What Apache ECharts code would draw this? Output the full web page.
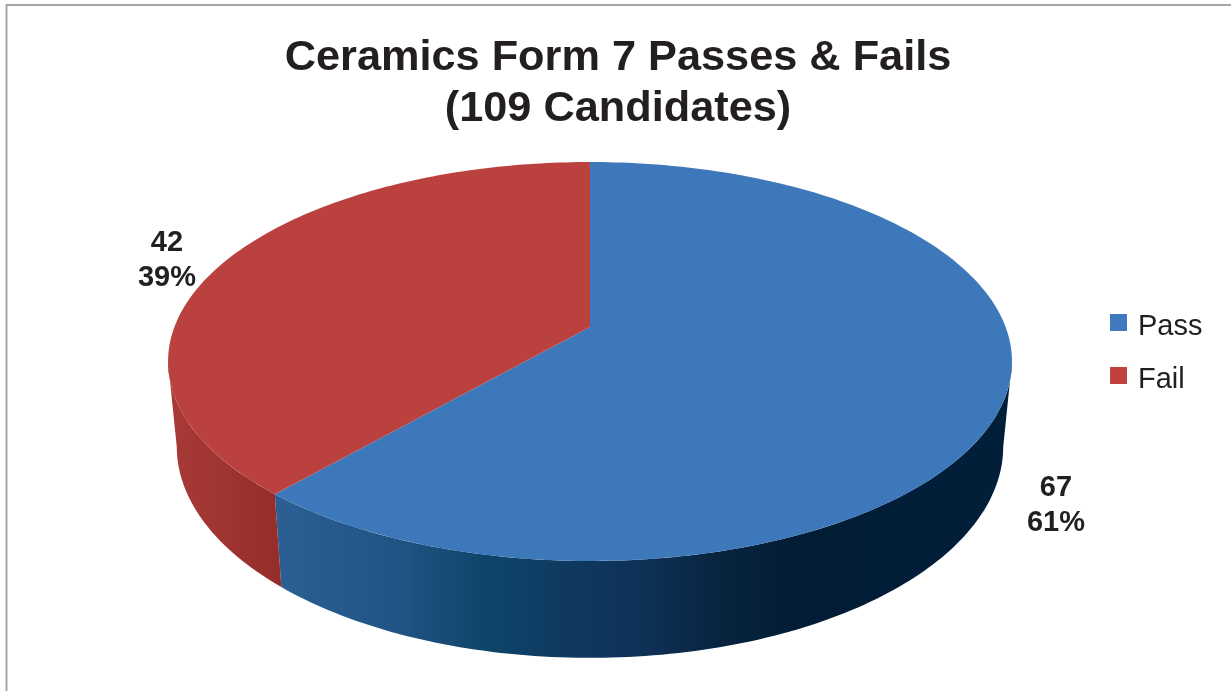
<!DOCTYPE html>
<html>
<head>
<meta charset="utf-8">
<title>Ceramics Form 7 Passes & Fails</title>
<style>
  html, body { margin: 0; padding: 0; background: #fff; }
  #chart { width: 1231px; height: 691px; }
</style>
<script src="https://cdn.jsdelivr.net/npm/echarts@6/dist/echarts.min.js"></script>
</head>
<body>
<div id="chart"></div>
<script>
const categories = ['Pass', 'Fail'];
const counts = [67, 42];
const titleText = 'Ceramics Form 7 Passes & Fails\n(109 Candidates)';

const total = counts.reduce((a, b) => a + b, 0);
const font = '"Liberation Sans", Arial, sans-serif';

// pie is seen in perspective, so the centre is not the middle of the ellipse
const topFace = { cx: 590, cy: 327, a: 415.6, b: 193.5, k: 0.173 };
const bottomFace = { cx: 590, cy: 410, a: 407, b: 205, k: 0.173 };
const wallRange = [100, 260]; // degrees clockwise from 12 o'clock that face the viewer

const topColors = ['#3d78ba', '#ba413e'];
const legendColors = ['#4079bf', '#c0423f'];
const labelCenters = [[1056, 505], [167, 260]];

const wallGradients = [
  new echarts.graphic.LinearGradient(274, 0, 1012, 0, [
    { offset: 0, color: '#2c5f93' },
    { offset: 0.17, color: '#1f5484' },
    { offset: 0.29, color: '#0e4468' },
    { offset: 0.39, color: '#0f3a60' },
    { offset: 0.51, color: '#0e3055' },
    { offset: 0.6, color: '#08243f' },
    { offset: 0.71, color: '#021c35' },
    { offset: 1, color: '#021f3a' },
  ], true),
  new echarts.graphic.LinearGradient(170, 0, 281, 0, [
    { offset: 0, color: '#a83a37' },
    { offset: 1, color: '#952d2b' },
  ], true),
];

function project(face, deg) {
  const rad = (deg * Math.PI) / 180;
  const u = Math.sin(rad);
  const v = -Math.cos(rad);
  const w = 1 - face.k * v;
  return [face.cx + (face.a * u) / w, face.cy + (face.b * v) / w];
}

function arc(face, from, to) {
  const points = [];
  const steps = Math.max(2, Math.ceil(Math.abs(to - from)));
  for (let i = 0; i <= steps; i++) {
    points.push(project(face, from + ((to - from) * i) / steps));
  }
  return points;
}

function renderSlice(index) {
  const before = counts.slice(0, index).reduce((a, b) => a + b, 0);
  const start = (before / total) * 360;
  const end = ((before + counts[index]) / total) * 360;
  const children = [];

  const wallFrom = Math.max(start, wallRange[0]);
  const wallTo = Math.min(end, wallRange[1]);
  if (wallTo > wallFrom) {
    children.push({
      type: 'polygon',
      shape: { points: arc(topFace, wallFrom, wallTo).concat(arc(bottomFace, wallTo, wallFrom)) },
      style: { fill: wallGradients[index] },
    });
  }
  children.push({
    type: 'polygon',
    z2: 5,
    shape: { points: [[topFace.cx, topFace.cy]].concat(arc(topFace, start, end)) },
    style: { fill: topColors[index] },
  });
  children.push({
    type: 'text',
    z2: 10,
    style: {
      text: counts[index] + '\n' + Math.round((counts[index] / total) * 100) + '%',
      x: labelCenters[index][0],
      y: labelCenters[index][1],
      align: 'center',
      verticalAlign: 'middle',
      lineHeight: 35,
      fontFamily: font,
      fontSize: 29,
      fontWeight: 'bold',
      fill: '#231f20',
    },
  });
  return { type: 'group', children };
}

const chart = echarts.init(document.getElementById('chart'));
chart.setOption({
  animation: false,
  backgroundColor: '#fff',
  title: {
    text: titleText,
    left: 613,
    top: 28,
    textAlign: 'center',
    textStyle: { fontFamily: font, fontSize: 43.3, fontWeight: 'bold', lineHeight: 51, color: '#231f20' },
  },
  legend: {
    orient: 'vertical',
    left: 1105,
    top: 307,
    itemWidth: 17,
    itemHeight: 17,
    itemGap: 24,
    icon: 'rect',
    data: categories.map((name, i) => ({ name, itemStyle: { color: legendColors[i] } })),
    formatter: '{entry|{name}}',
    textStyle: {
      rich: {
        entry: { fontFamily: font, fontSize: 29, color: '#231f20', padding: [8, 0, 0, 6] },
      },
    },
  },
  graphic: [{
    type: 'rect',
    silent: true,
    shape: { x: 6.5, y: 5, width: 1400, height: 900 },
    style: { fill: 'none', stroke: '#a6a6a6', lineWidth: 2 },
  }],
  series: categories.map((name, i) => ({
    type: 'custom',
    name,
    coordinateSystem: 'none',
    silent: true,
    itemStyle: { color: legendColors[i] },
    data: [counts[i]],
    renderItem: () => renderSlice(i),
  })),
});
</script>
</body>
</html>
